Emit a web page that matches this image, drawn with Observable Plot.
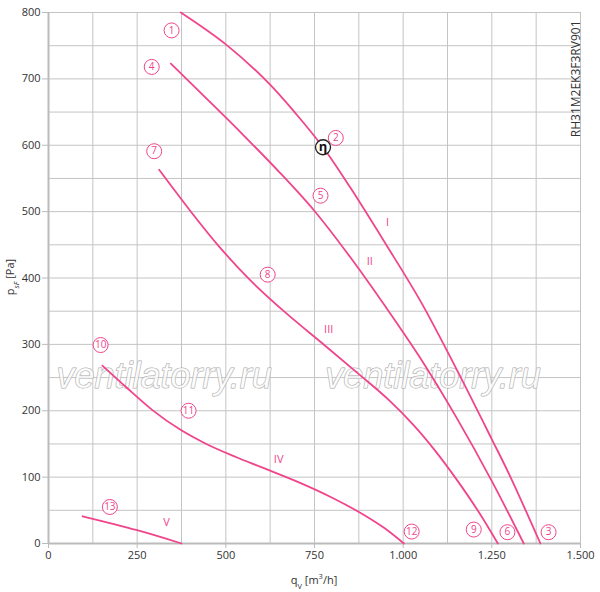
<!DOCTYPE html>
<html>
<head>
<meta charset="utf-8">
<script src="https://cdn.jsdelivr.net/npm/d3@7"></script>
<script src="https://cdn.jsdelivr.net/npm/@observablehq/plot@0.6"></script>
<style>
  html, body { margin: 0; padding: 0; background: #fff; }
  #chart { width: 600px; height: 592px; }
</style>
</head>
<body>
<div id="chart"></div>
<script>
// ---- data (q in m³/h, p in Pa) ----
const curveI   = [[373,800],[500,752],[620,694],[700,646],[774,597],[850,537],[950,452],[1050,364],[1150,263],[1250,157],[1300,103],[1387,0]];
const curveII  = [[345,723],[450,668],[550,615],[650,560],[750,501],[850,432],[950,357],[1050,278],[1150,190],[1250,94],[1340,0]];
const curveIII = [[312,563],[400,501],[480,448],[570,396],[670,347],[780,298],[880,253],[960,216],[1030,178],[1090,140],[1150,97],[1210,50],[1267,0]];
const curveIV  = [[152,268],[220,235],[293,201],[370,172],[445,150],[530,130],[600,115],[711,91],[800,69],[880,46],[945,24],[1002,0]];
const curveV   = [[96,41],[250,20],[375,0]];

const pointLabels = ["1","2","3","4","5","6","7","8","9","10","11","12","13"];
const pointQ      = [347, 810, 1410, 291, 767, 1294, 298, 618, 1199, 147, 395, 1024, 173];
const pointP      = [773, 611, 17,   718, 524, 17,   591, 405, 21,   299, 200, 18,   55];

const romanLabels = ["I","II","III","IV","V"];
const romanQ      = [956, 906, 790, 649, 333];
const romanP      = [483, 425, 322, 127, 31];

const etaPoint = [{q: 774, p: 597, t: "η"}];

const xTicks = [0, 250, 500, 750, 1000, 1250, 1500];
const yTicks = [0, 100, 200, 300, 400, 500, 600, 700, 800];
const xGrid = d3.range(0, 1501, 125);
const yGrid = d3.range(0, 801, 50);

const modelName = "RH31M2EK3F3RV901";
const watermark = [{q: 326, p: 235, t: "ventilatorry.ru"}, {q: 1084, p: 235, t: "ventilatorry.ru"}];

// ---- build tables ----
const PINK = "#f0458b";
const curves = [
  ...curveI.map(([q,p]) => ({q, p, c: "I"})),
  ...curveII.map(([q,p]) => ({q, p, c: "II"})),
  ...curveIII.map(([q,p]) => ({q, p, c: "III"})),
  ...curveIV.map(([q,p]) => ({q, p, c: "IV"})),
  ...curveV.map(([q,p]) => ({q, p, c: "V"}))
];
const points = pointLabels.map((t, i) => ({t, q: pointQ[i], p: pointP[i]}));
const romans = romanLabels.map((t, i) => ({t, q: romanQ[i], p: romanP[i]}));

const fmtX = d => d3.format(",")(d).replace(/,/g, ".");

const plot = Plot.plot({
  width: 600,
  height: 592,
  marginLeft: 48,
  marginRight: 20,
  marginTop: 12,
  marginBottom: 49,
  style: {fontFamily: "'Open Sans', sans-serif", fontSize: "11px", color: "#333", background: "#fff"},
  x: {domain: [0, 1500]},
  y: {domain: [0, 800]},
  marks: [
    Plot.ruleX(xGrid, {stroke: "#c4c4c4", strokeWidth: 1}),
    Plot.ruleY(yGrid, {stroke: "#c4c4c4", strokeWidth: 1}),
    Plot.axisX({ticks: xTicks, tickSize: 5, tickPadding: 3, stroke: "#bbb", fill: "#333", tickFormat: fmtX, label: null}),
    Plot.axisY({ticks: yTicks, tickSize: 6, tickPadding: 2, stroke: "#bbb", fill: "#333", label: null}),
    Plot.ruleX([0], {stroke: "#bbb", strokeWidth: 2}),
    Plot.ruleY([0], {stroke: "#bbb", strokeWidth: 2}),
    Plot.text(watermark, {x: "q", y: "p", text: "t", fontFamily: "'Liberation Sans', Arial, sans-serif", fontStyle: "italic", fontSize: 36, lineAnchor: "bottom", fill: "#fff", fillOpacity: 0.75, stroke: "#a8a8a8", strokeWidth: 1}),
    Plot.line(curves, {x: "q", y: "p", z: "c", stroke: PINK, strokeWidth: 1.8, curve: "catmull-rom"}),
    Plot.dot(points, {x: "q", y: "p", r: 7.5, fill: "#fff", stroke: PINK, strokeWidth: 1}),
    Plot.text(points, {x: "q", y: "p", text: "t", fill: PINK, fontSize: 10, letterSpacing: "-0.5px"}),
    Plot.text(romans, {x: "q", y: "p", text: "t", fill: PINK, fontSize: 11}),
    Plot.dot(etaPoint, {x: "q", y: "p", r: 7.5, fill: "#fff", stroke: "#222", strokeWidth: 1.3}),
    Plot.text(etaPoint, {x: "q", y: "p", text: "t", fill: "#111", fontSize: 13, fontWeight: "bold"}),
    Plot.text([modelName], {frameAnchor: "top-right", text: d => d, rotate: -90, textAnchor: "end", dx: -9, dy: 8, fill: "#333", fontSize: 12})
  ]
});

const svg = d3.select(plot);
// y axis label with subscript
const yl = svg.append("text")
  .attr("transform", "translate(14,277) rotate(-90)")
  .attr("text-anchor", "middle")
  .attr("fill", "#333")
  .style("font-size", "11px");
yl.append("tspan").text("p");
yl.append("tspan").attr("baseline-shift", "sub").style("font-size", "7.5px").style("font-style", "italic").text("sF");
yl.append("tspan").text(" [Pa]");
// x axis label with subscript / superscript
const xl = svg.append("text")
  .attr("x", 314).attr("y", 584)
  .attr("text-anchor", "middle")
  .attr("fill", "#333")
  .style("font-size", "11px");
xl.append("tspan").text("q");
xl.append("tspan").attr("baseline-shift", "sub").style("font-size", "7.5px").text("V");
xl.append("tspan").text(" [m");
xl.append("tspan").attr("baseline-shift", "super").style("font-size", "7.5px").text("3");
xl.append("tspan").text("/h]");

document.getElementById("chart").appendChild(plot);
</script>
</body>
</html>
